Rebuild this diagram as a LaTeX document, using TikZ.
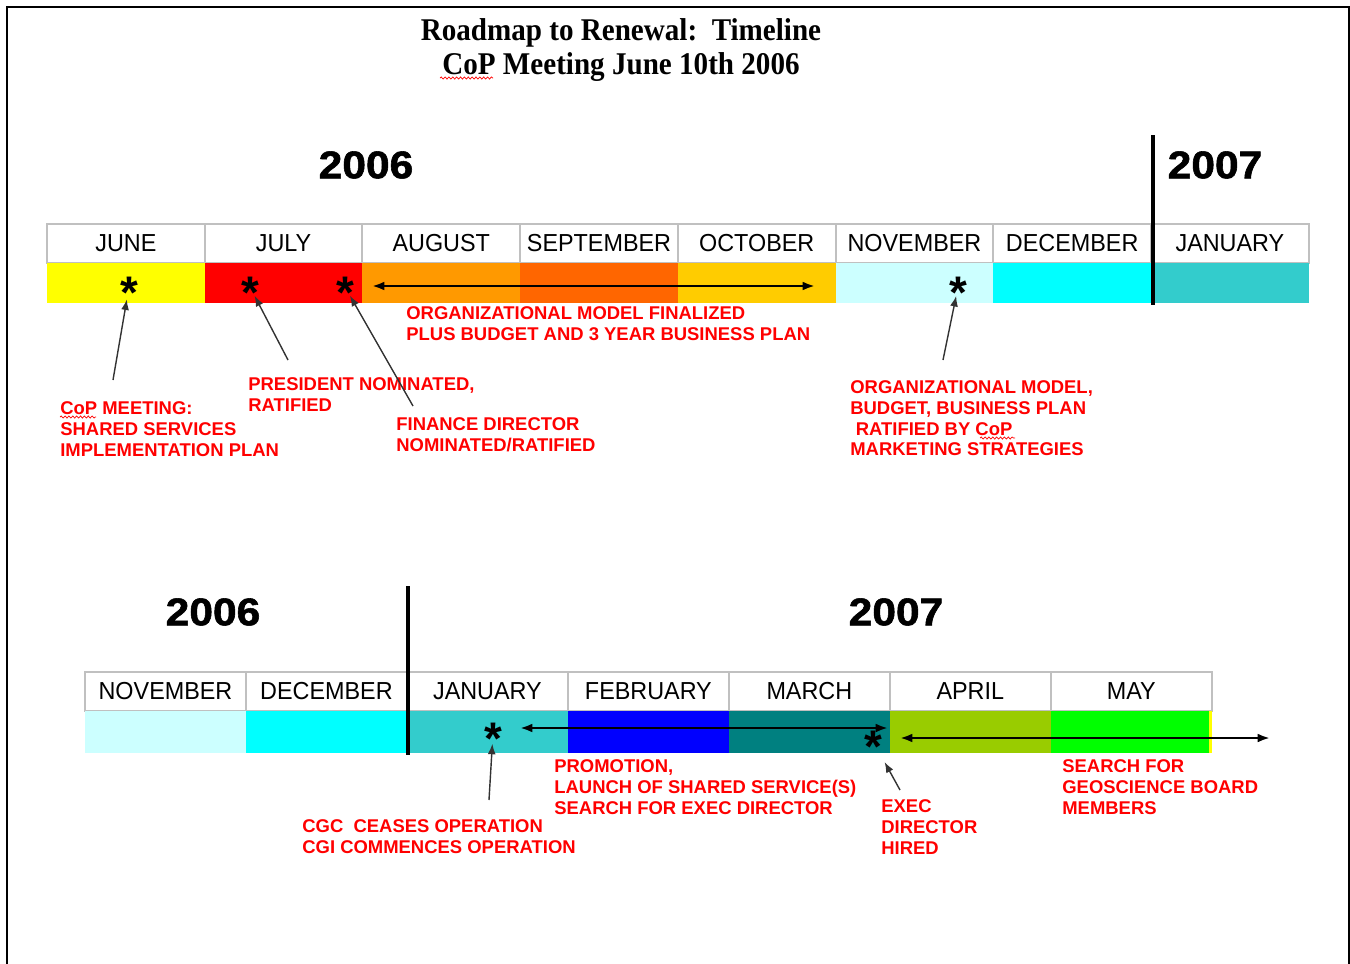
\documentclass[tikz,border=0pt]{standalone}
\usepackage{fontspec}
\setmainfont{Liberation Sans}
\newfontfamily\titlefont[FakeStretch=0.92]{Liberation Serif}
\newfontfamily\monthfont[FakeStretch=0.95]{Liberation Sans}
\newfontfamily\yearfont[FakeStretch=1.1,BoldFeatures={FakeBold=1.5}]{Liberation Sans}
\usetikzlibrary{shapes,arrows,arrows.meta}
\usetikzlibrary{positioning,calc,decorations.pathmorphing}

\definecolor{HeadGray}{HTML}{C0C0C0}
\definecolor{NoteRed}{HTML}{FF0000}
\definecolor{JuneCol}{HTML}{FFFF00}
\definecolor{JulyCol}{HTML}{FF0000}
\definecolor{AugCol}{HTML}{FF9900}
\definecolor{SepCol}{HTML}{FF6600}
\definecolor{OctCol}{HTML}{FFCC00}
\definecolor{NovCol}{HTML}{CCFFFF}
\definecolor{DecCol}{HTML}{00FFFF}
\definecolor{JanCol}{HTML}{33CCCC}
\definecolor{FebCol}{HTML}{0000FF}
\definecolor{MarCol}{HTML}{008080}
\definecolor{AprCol}{HTML}{99CC00}
\definecolor{MayCol}{HTML}{00FF00}

\begin{document}
\begin{tikzpicture}[x=0.02cm, y=-0.02cm, >={Latex[length=7pt,width=5pt]}, node distance=0pt]

%local definitions
\tikzstyle{MonthHead} = [draw=HeadGray, line width=1.1pt, rectangle, inner sep=0pt, outer sep=0pt, minimum height=0.78cm, font=\monthfont\fontsize{14}{14}\selectfont]
\tikzstyle{TopHead} = [MonthHead, minimum width=3.155cm]
\tikzstyle{LowHead} = [MonthHead, minimum width=3.22cm]
\tikzstyle{TopBand} = [rectangle, inner sep=0pt, outer sep=0pt, minimum width=3.155cm, minimum height=0.8cm]
\tikzstyle{LowBand} = [rectangle, inner sep=0pt, outer sep=0pt, minimum width=3.22cm, minimum height=0.84cm]
\tikzstyle{Year} = [font=\yearfont\bfseries\fontsize{22}{22}\selectfont, inner sep=0pt]
\tikzstyle{Star} = [font=\bfseries\fontsize{26}{26}\selectfont, inner sep=0pt]
\tikzstyle{Note} = [text=NoteRed, font=\bfseries\fontsize{10.5}{11.9}\selectfont, align=left, anchor=north west, inner sep=0pt]
\tikzstyle{BandArrow} = [<->, line width=1.3pt]
\tikzstyle{NoteArrow} = [-{Latex[length=6pt,width=4.5pt]}, line width=0.8pt, draw=black!80]
\tikzstyle{YearLine} = [line width=2.8pt]
\tikzstyle{SpellLine} = [draw=red, line width=0.4pt, decorate, decoration={snake, amplitude=0.6pt, segment length=2.2pt}]

\useasboundingbox (0,0) rectangle (1350,964);
\draw [line width=1.1pt] (7,964) -- (7,7) -- (1349,7) -- (1349,964);

%title
\node [font=\titlefont\bfseries\fontsize{18}{19.3}\selectfont, align=center, inner sep=0pt] (Title) at (621,50) {Roadmap to Renewal:\ \ Timeline\\CoP Meeting June 10th 2006};
\draw [SpellLine] (440,78) -- (493,78);

%upper timeline
\node [TopHead, anchor=north west] (JuneHead) at (47,224) {JUNE};
\node [TopHead, right=of JuneHead] (JulyHead) {JULY};
\node [TopHead, right=of JulyHead] (AugHead) {AUGUST};
\node [TopHead, right=of AugHead] (SepHead) {SEPTEMBER};
\node [TopHead, right=of SepHead] (OctHead) {OCTOBER};
\node [TopHead, right=of OctHead] (NovHead) {NOVEMBER};
\node [TopHead, right=of NovHead] (DecHead) {DECEMBER};
\node [TopHead, right=of DecHead] (JanHead) {JANUARY};

\node [TopBand, fill=JuneCol, below=of JuneHead] (JuneBand) {};
\node [TopBand, fill=JulyCol, below=of JulyHead] (JulyBand) {};
\node [TopBand, fill=AugCol, below=of AugHead] (AugBand) {};
\node [TopBand, fill=SepCol, below=of SepHead] (SepBand) {};
\node [TopBand, fill=OctCol, below=of OctHead] (OctBand) {};
\node [TopBand, fill=NovCol, below=of NovHead] (NovBand) {};
\node [TopBand, fill=DecCol, below=of DecHead] (DecBand) {};
\node [TopBand, fill=JanCol, below=of JanHead] (JanBand) {};

\node [Year] (YearTopA) at (366,165) {2006};
\node [Year] (YearTopB) at (1215,165) {2007};
\draw [YearLine] (1153,135) -- (1153,305);

%upper events
\node [Star] (StarJune) at (129,287) {\raisebox{-0.46em}[0.15em][0.15em]{*}};
\node [Star] (StarJulyA) at (250,287) {\raisebox{-0.46em}[0.15em][0.15em]{*}};
\node [Star] (StarJulyB) at (345,287) {\raisebox{-0.46em}[0.15em][0.15em]{*}};
\node [Star] (StarNov) at (958,287) {\raisebox{-0.46em}[0.15em][0.15em]{*}};

\coordinate (OrgStart) at (372,286);
\coordinate (OrgEnd) at (815,286);
\draw [BandArrow] (OrgStart) -- (OrgEnd);

\node [Note] (OrgFinal) at (406,306) {ORGANIZATIONAL MODEL FINALIZED\\PLUS BUDGET AND 3 YEAR BUSINESS PLAN};
\node [Note] (President) at (248,377) {PRESIDENT NOMINATED,\\RATIFIED};
\node [Note] (CopMeeting) at (60,401) {CoP MEETING:\\SHARED SERVICES\\IMPLEMENTATION PLAN};
\node [Note] (Finance) at (396,417) {FINANCE DIRECTOR\\NOMINATED/RATIFIED};
\node [Note] (OrgRatified) at (850,380) {ORGANIZATIONAL MODEL,\\BUDGET, BUSINESS PLAN\\\hspace{0.3em}RATIFIED BY CoP\\MARKETING STRATEGIES};
\draw [SpellLine] (60,417) -- (96,417);
\draw [SpellLine] (980,438) -- (1015,438);

\coordinate (CopTail) at (113,380);
\coordinate (PresidentTail) at (288,360);
\coordinate (FinanceTail) at (413,406);
\coordinate (RatifiedTail) at (943,360);
\draw [NoteArrow, shorten >=3pt] (CopTail) -- (StarJune);
\draw [NoteArrow, shorten >=1pt] (PresidentTail) -- (StarJulyA);
\draw [NoteArrow, shorten >=1pt] (FinanceTail) -- (StarJulyB);
\draw [NoteArrow, shorten >=1pt] (RatifiedTail) -- (StarNov);

%lower timeline
\node [LowHead, anchor=north west] (NovHeadLow) at (85,672) {NOVEMBER};
\node [LowHead, right=of NovHeadLow] (DecHeadLow) {DECEMBER};
\node [LowHead, right=of DecHeadLow] (JanHeadLow) {JANUARY};
\node [LowHead, right=of JanHeadLow] (FebHeadLow) {FEBRUARY};
\node [LowHead, right=of FebHeadLow] (MarHeadLow) {MARCH};
\node [LowHead, right=of MarHeadLow] (AprHeadLow) {APRIL};
\node [LowHead, right=of AprHeadLow] (MayHeadLow) {MAY};

\node [LowBand, fill=NovCol, below=of NovHeadLow] (NovBandLow) {};
\node [LowBand, fill=DecCol, below=of DecHeadLow] (DecBandLow) {};
\node [LowBand, fill=JanCol, below=of JanHeadLow] (JanBandLow) {};
\node [LowBand, fill=FebCol, below=of FebHeadLow] (FebBandLow) {};
\node [LowBand, fill=MarCol, below=of MarHeadLow] (MarBandLow) {};
\node [LowBand, fill=AprCol, below=of AprHeadLow] (AprBandLow) {};
\node [LowBand, fill=MayCol, below=of MayHeadLow] (MayBandLow) {};
\fill [JuneCol] ($(MayBandLow.north east)+(-3,0)$) rectangle (MayBandLow.south east);

\node [Year] (YearLowA) at (213,612) {2006};
\node [Year] (YearLowB) at (896,612) {2007};
\draw [YearLine] (408,586) -- (408,755);

%lower events
\node [Star] (StarJanLow) at (493,733) {\raisebox{-0.46em}[0.15em][0.15em]{*}};
\node [Star] (StarMarLow) at (873,741) {\raisebox{-0.46em}[0.15em][0.15em]{*}};

\coordinate (PromoStart) at (520,728);
\coordinate (PromoEnd) at (888,728);
\coordinate (BoardStart) at (900,738);
\coordinate (BoardEnd) at (1270,738);
\draw [BandArrow] (PromoStart) -- (PromoEnd);
\draw [BandArrow] (BoardStart) -- (BoardEnd);

\node [Note] (Promotion) at (554,759) {PROMOTION,\\LAUNCH OF SHARED SERVICE(S)\\SEARCH FOR EXEC DIRECTOR};
\node [Note] (CgcCeases) at (302,819) {CGC\ \ CEASES OPERATION\\CGI COMMENCES OPERATION};
\node [Note] (ExecHired) at (881,799) {EXEC\\DIRECTOR\\HIRED};
\node [Note] (BoardSearch) at (1062,759) {SEARCH FOR\\GEOSCIENCE BOARD\\MEMBERS};

\coordinate (CgcTail) at (489,800);
\coordinate (ExecTail) at (900,790);
\draw [NoteArrow, shorten >=2pt] (CgcTail) -- (StarJanLow);
\draw [NoteArrow, shorten >=9pt] (ExecTail) -- (StarMarLow);

\end{tikzpicture}
\end{document}
